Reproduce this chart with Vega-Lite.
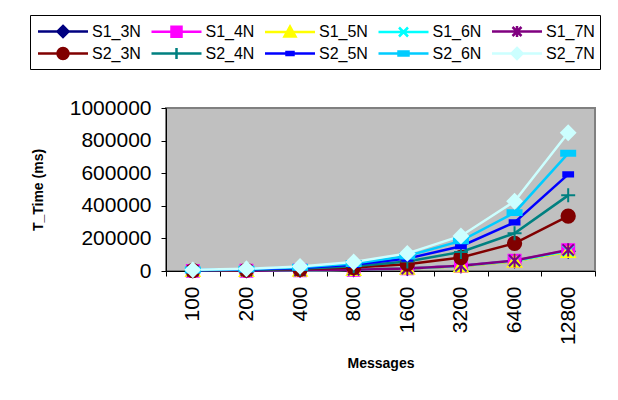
{
  "$schema": "https://vega.github.io/schema/vega-lite/v6.json",
  "width": 429,
  "height": 163,
  "autosize": {"type": "none"},
  "padding": {"left": 166, "top": 108, "right": 23, "bottom": 129},
  "background": "white",
  "config": {
    "font": "Liberation Sans",
    "view": {"fill": "#C0C0C0", "stroke": "#808080", "strokeWidth": 2},
    "legend": {
      "orient": "none", "legendX": -136, "legendY": -93, "direction": "horizontal", "columns": 5,
      "strokeColor": "black", "fillColor": "white", "padding": 5,
      "symbolSize": 400, "symbolStrokeWidth": 2.5, "symbolOpacity": 1, "symbolOffset": 16.5, "labelOffset": 17.5,
      "labelFontSize": 16, "labelColor": "black", "labelFont": "Liberation Sans",
      "rowPadding": 0, "columnPadding": 5.5, "gridAlign": "all"
    }
  },
  "data": {"values": [
    {"series": "S1_3N", "msg": "100", "time": 900}, {"series": "S1_3N", "msg": "200", "time": 1850}, {"series": "S1_3N", "msg": "400", "time": 3700}, {"series": "S1_3N", "msg": "800", "time": 7600}, {"series": "S1_3N", "msg": "1600", "time": 15200}, {"series": "S1_3N", "msg": "3200", "time": 30500}, {"series": "S1_3N", "msg": "6400", "time": 61000}, {"series": "S1_3N", "msg": "12800", "time": 121000},
    {"series": "S1_4N", "msg": "100", "time": 950}, {"series": "S1_4N", "msg": "200", "time": 1900}, {"series": "S1_4N", "msg": "400", "time": 3900}, {"series": "S1_4N", "msg": "800", "time": 7900}, {"series": "S1_4N", "msg": "1600", "time": 15800}, {"series": "S1_4N", "msg": "3200", "time": 31500}, {"series": "S1_4N", "msg": "6400", "time": 63000}, {"series": "S1_4N", "msg": "12800", "time": 127000},
    {"series": "S1_5N", "msg": "100", "time": 880}, {"series": "S1_5N", "msg": "200", "time": 1800}, {"series": "S1_5N", "msg": "400", "time": 3600}, {"series": "S1_5N", "msg": "800", "time": 7400}, {"series": "S1_5N", "msg": "1600", "time": 14800}, {"series": "S1_5N", "msg": "3200", "time": 29500}, {"series": "S1_5N", "msg": "6400", "time": 59000}, {"series": "S1_5N", "msg": "12800", "time": 118000},
    {"series": "S1_6N", "msg": "100", "time": 920}, {"series": "S1_6N", "msg": "200", "time": 1870}, {"series": "S1_6N", "msg": "400", "time": 3750}, {"series": "S1_6N", "msg": "800", "time": 7700}, {"series": "S1_6N", "msg": "1600", "time": 15400}, {"series": "S1_6N", "msg": "3200", "time": 31000}, {"series": "S1_6N", "msg": "6400", "time": 62000}, {"series": "S1_6N", "msg": "12800", "time": 124000},
    {"series": "S1_7N", "msg": "100", "time": 960}, {"series": "S1_7N", "msg": "200", "time": 1950}, {"series": "S1_7N", "msg": "400", "time": 3950}, {"series": "S1_7N", "msg": "800", "time": 8000}, {"series": "S1_7N", "msg": "1600", "time": 16000}, {"series": "S1_7N", "msg": "3200", "time": 32000}, {"series": "S1_7N", "msg": "6400", "time": 64000}, {"series": "S1_7N", "msg": "12800", "time": 129000},
    {"series": "S2_3N", "msg": "100", "time": 2600}, {"series": "S2_3N", "msg": "200", "time": 5200}, {"series": "S2_3N", "msg": "400", "time": 10500}, {"series": "S2_3N", "msg": "800", "time": 21000}, {"series": "S2_3N", "msg": "1600", "time": 42000}, {"series": "S2_3N", "msg": "3200", "time": 83000}, {"series": "S2_3N", "msg": "6400", "time": 170000}, {"series": "S2_3N", "msg": "12800", "time": 337000},
    {"series": "S2_4N", "msg": "100", "time": 3600}, {"series": "S2_4N", "msg": "200", "time": 7200}, {"series": "S2_4N", "msg": "400", "time": 14500}, {"series": "S2_4N", "msg": "800", "time": 29000}, {"series": "S2_4N", "msg": "1600", "time": 58000}, {"series": "S2_4N", "msg": "3200", "time": 117000}, {"series": "S2_4N", "msg": "6400", "time": 231000}, {"series": "S2_4N", "msg": "12800", "time": 464000},
    {"series": "S2_5N", "msg": "100", "time": 4700}, {"series": "S2_5N", "msg": "200", "time": 9400}, {"series": "S2_5N", "msg": "400", "time": 19000}, {"series": "S2_5N", "msg": "800", "time": 38000}, {"series": "S2_5N", "msg": "1600", "time": 76000}, {"series": "S2_5N", "msg": "3200", "time": 152000}, {"series": "S2_5N", "msg": "6400", "time": 298000}, {"series": "S2_5N", "msg": "12800", "time": 593000},
    {"series": "S2_6N", "msg": "100", "time": 5800}, {"series": "S2_6N", "msg": "200", "time": 11500}, {"series": "S2_6N", "msg": "400", "time": 23000}, {"series": "S2_6N", "msg": "800", "time": 46000}, {"series": "S2_6N", "msg": "1600", "time": 92000}, {"series": "S2_6N", "msg": "3200", "time": 185000}, {"series": "S2_6N", "msg": "6400", "time": 358000}, {"series": "S2_6N", "msg": "12800", "time": 722000},
    {"series": "S2_7N", "msg": "100", "time": 7000}, {"series": "S2_7N", "msg": "200", "time": 14000}, {"series": "S2_7N", "msg": "400", "time": 28000}, {"series": "S2_7N", "msg": "800", "time": 55000}, {"series": "S2_7N", "msg": "1600", "time": 108000}, {"series": "S2_7N", "msg": "3200", "time": 215000}, {"series": "S2_7N", "msg": "6400", "time": 428000}, {"series": "S2_7N", "msg": "12800", "time": 848000}
  ]},
  "encoding": {
    "x": {
      "field": "msg", "type": "ordinal",
      "sort": ["100", "200", "400", "800", "1600", "3200", "6400", "12800"],
      "bandPosition": 0.5,
      "scale": {"type": "band", "paddingInner": 0, "paddingOuter": 0},
      "axis": {
        "title": "Messages", "titleFontSize": 14, "titleFontWeight": "bold", "titleColor": "black", "titlePadding": 12,
        "labelAngle": -90, "labelAlign": "right", "labelBaseline": "middle", "labelFontSize": 21, "labelColor": "black", "labelPadding": 10,
        "tickBand": "extent", "tickSize": 5, "tickColor": "black", "domainColor": "black", "domainWidth": 1, "grid": false
      }
    },
    "y": {
      "field": "time", "type": "quantitative",
      "scale": {"domain": [0, 1000000], "nice": false},
      "axis": {
        "title": "T_Time (ms)", "titleFontSize": 14, "titleFontWeight": "bold", "titleColor": "black", "titlePadding": 24,
        "labelFontSize": 21, "labelColor": "black", "labelPadding": 10,
        "values": [0, 200000, 400000, 600000, 800000, 1000000], "format": "d",
        "tickSize": 5, "tickColor": "black", "domainColor": "black", "domainWidth": 1, "grid": false
      }
    },
    "color": {
      "field": "series", "type": "nominal",
      "scale": {
        "domain": ["S1_3N", "S1_4N", "S1_5N", "S1_6N", "S1_7N", "S2_3N", "S2_4N", "S2_5N", "S2_6N", "S2_7N"],
        "range": ["#000080", "#FF00FF", "#FFFF00", "#00FFFF", "#800080", "#800000", "#008080", "#0000FF", "#00CCFF", "#CCFFFF"]
      },
      "legend": null
    },
    "stroke": {
      "field": "series", "type": "nominal",
      "scale": {
        "domain": ["S1_3N", "S1_4N", "S1_5N", "S1_6N", "S1_7N", "S2_3N", "S2_4N", "S2_5N", "S2_6N", "S2_7N"],
        "range": ["#000080", "#FF00FF", "#FFFF00", "#00FFFF", "#800080", "#800000", "#008080", "#0000FF", "#00CCFF", "#CCFFFF"]
      },
      "legend": null
    }
  },
  "resolve": {
    "scale": {"shape": "independent"},
    "legend": {"shape": "independent", "color": "independent", "stroke": "independent"}
  },
  "layer": [
    {"mark": {"type": "line", "strokeWidth": 2.5}},
    {
      "mark": {"type": "point", "filled": true, "size": 196, "strokeWidth": 2, "opacity": 1},
      "encoding": {
        "shape": {
          "field": "series", "type": "nominal",
          "scale": {
            "domain": ["S1_3N", "S1_4N", "S1_5N", "S1_6N", "S1_7N", "S2_3N", "S2_4N", "S2_5N", "S2_6N", "S2_7N"],
            "range": [
              "M0,-0.9L0.9,0L0,0.9L-0.9,0Z",
              "M-0.85,-0.85H0.85V0.85H-0.85Z",
              "M0,-0.9L0.95,0.75H-0.95Z",
              "M-0.8,-0.8L0.8,0.8M-0.8,0.8L0.8,-0.8",
              "M-0.8,-0.8L0.8,0.8M-0.8,0.8L0.8,-0.8M0,-0.95V0.95",
              "M-0.95,0A0.95,0.95,0,1,0,0.95,0A0.95,0.95,0,1,0,-0.95,0Z",
              "M-1,0H1M0,-1V1",
              "M-0.7,-0.3H0.7V0.3H-0.7Z",
              "M-1,-0.35H1V0.35H-1Z",
              "M0,-1L1,0L0,1L-1,0Z"
            ]
          },
          "legend": null
        }
      }
    },
    {
      "transform": [{"filter": "false"}],
      "mark": {"type": "point", "filled": true, "size": 400, "strokeWidth": 2.5, "opacity": 1},
      "encoding": {
        "color": {
          "field": "series", "type": "nominal",
          "scale": {
            "domain": ["S1_3N", "S1_4N", "S1_5N", "S1_6N", "S1_7N", "S2_3N", "S2_4N", "S2_5N", "S2_6N", "S2_7N"],
            "range": ["#000080", "#FF00FF", "#FFFF00", "#00FFFF", "#800080", "#800000", "#008080", "#0000FF", "#00CCFF", "#CCFFFF"]
          },
          "legend": {"title": null}
        },
        "stroke": {
          "field": "series", "type": "nominal",
          "scale": {
            "domain": ["S1_3N", "S1_4N", "S1_5N", "S1_6N", "S1_7N", "S2_3N", "S2_4N", "S2_5N", "S2_6N", "S2_7N"],
            "range": ["#000080", "#FF00FF", "#FFFF00", "#00FFFF", "#800080", "#800000", "#008080", "#0000FF", "#00CCFF", "#CCFFFF"]
          },
          "legend": {"title": null}
        },
        "shape": {
          "field": "series", "type": "nominal",
          "scale": {
            "domain": ["S1_3N", "S1_4N", "S1_5N", "S1_6N", "S1_7N", "S2_3N", "S2_4N", "S2_5N", "S2_6N", "S2_7N"],
            "range": [
              "M-2.5,0H2.5M0,-0.55L0.55,0L0,0.55L-0.55,0Z",
              "M-2.5,0H2.5M-0.5,-0.5H0.5V0.5H-0.5Z",
              "M-2.5,0H2.5M0,-0.55L0.55,0.45H-0.55Z",
              "M-2.5,0H2.5M-0.45,-0.45L0.45,0.45M-0.45,0.45L0.45,-0.45",
              "M-2.5,0H2.5M-0.45,-0.45L0.45,0.45M-0.45,0.45L0.45,-0.45M0,-0.55V0.55",
              "M-2.5,0H2.5M-0.55,0A0.55,0.55,0,1,0,0.55,0A0.55,0.55,0,1,0,-0.55,0Z",
              "M-2.5,0H2.5M-0.55,0H0.55M0,-0.55V0.55",
              "M-2.5,0H2.5M-0.35,-0.15H0.35V0.15H-0.35Z",
              "M-2.5,0H2.5M-0.5,-0.2H0.5V0.2H-0.5Z",
              "M-2.5,0H2.5M0,-0.55L0.55,0L0,0.55L-0.55,0Z"
            ]
          },
          "legend": {"title": null}
        }
      }
    }
  ]
}
